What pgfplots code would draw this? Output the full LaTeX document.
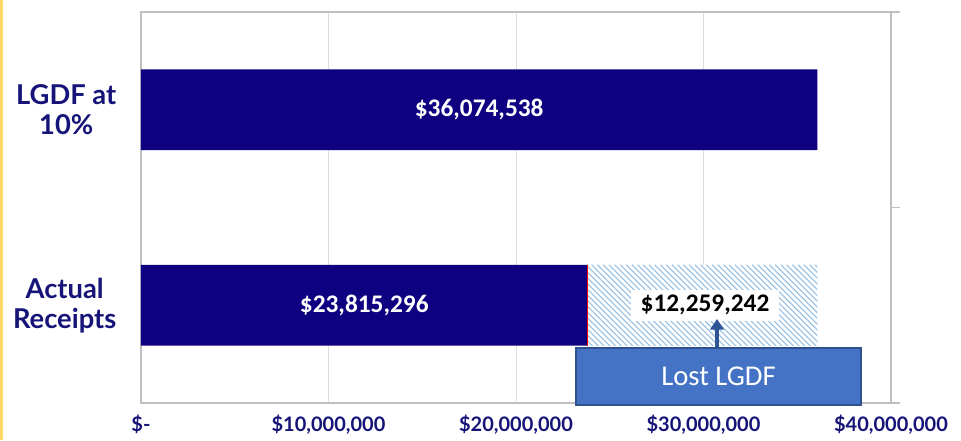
\documentclass[border=0pt]{standalone}
\usepackage{fontspec}
\setmainfont{Lato}
\newfontfamily\calibri{Carlito}
\usepackage{pgfplots}
\pgfplotsset{compat=1.18}
\usetikzlibrary{arrows.meta}
\definecolor{navybar}{RGB}{14,0,128}
\definecolor{navytext}{RGB}{22,20,120}
\definecolor{hatchc}{RGB}{150,192,228}
\definecolor{boxblue}{RGB}{68,114,196}
\definecolor{boxedge}{RGB}{47,82,143}
\definecolor{arrowblue}{RGB}{47,85,151}
\definecolor{framec}{RGB}{191,191,191}
\definecolor{gridc}{RGB}{222,222,222}
\definecolor{gold}{RGB}{255,217,102}
\begin{document}
\begin{tikzpicture}[x=1pt,y=1pt]
\useasboundingbox (0,0) rectangle (720.75,330);
\fill[white] (0,0) rectangle (720.75,330);
\fill[gold] (0.3,0) rectangle (2.6,330);
\begin{axis}[
  at={(105.75pt,27.75pt)}, anchor=south west,
  scale only axis, width=562.5pt, height=293.25pt,
  xbar stacked, bar width=0.414,
  xmin=0, xmax=40000000, ymin=-0.5, ymax=1.5,
  ytick={0,1},
  yticklabels={{Actual\\Receipts},{LGDF at\\10\%}},
  xtick={0,10000000,20000000,30000000,40000000},
  xticklabels={{\$-},{\$10,000,000},{\$20,000,000},{\$30,000,000},{\$40,000,000}},
  scaled x ticks=false,
  major tick length=0,
  axis line style={framec, line width=0.8pt},
  xmajorgrids, grid style={gridc, line width=0.7pt},
  clip=false,
  yticklabel style={font=\bfseries\fontsize{20.5}{22.5}\selectfont, text=navytext, align=center, xshift=-15pt},
  xticklabel style={font=\bfseries\fontsize{15}{17}\selectfont, text=navytext, yshift=-5.5pt},
]
\addplot[fill=navybar, draw=none] coordinates {(23815296,0) (36074538,1)};
\addplot[fill=white, draw=none] coordinates {(12259242,0) (0,1)};
\coordinate (hBL) at (axis cs:23815296,-0.207);
\coordinate (hTL) at (axis cs:23815296,0.207);
\coordinate (hTR) at (axis cs:36074538,0.207);
\coordinate (c1) at (axis cs:18037269,1);
\coordinate (c0) at (axis cs:11907648,0);
\coordinate (lab) at (axis cs:30080000,0.0);
\coordinate (arA) at (axis cs:30720000,-0.219);
\coordinate (arB) at (axis cs:30720000,-0.07);
\coordinate (bx1) at (axis cs:23200000,-0.219);
\coordinate (bx2) at (axis cs:38400000,-0.51);
\coordinate (bxc) at (axis cs:30800000,-0.3645);
\draw[framec, line width=0.8pt] (rel axis cs:1,0) -- ++(7pt,0pt);
\draw[framec, line width=0.8pt] (rel axis cs:1,0.5) -- ++(7pt,0pt);
\draw[framec, line width=0.8pt] (rel axis cs:1,1) -- ++(7pt,0pt);
\end{axis}
\begin{scope}
\clip (hBL) rectangle (hTR);
\foreach \i in {0,...,62} {
  \draw[hatchc, line width=0.8pt] ([xshift=\i*4.3pt-70pt]hTL) -- ++(80pt,-80pt);
}
\end{scope}
\draw[red, line width=0.6pt] (hBL) -- (hTL);
\node[text=white, font=\calibri\bfseries\fontsize{19}{22}\selectfont] at (c1) {\$36,074,538};
\node[text=white, font=\calibri\bfseries\fontsize{19}{22}\selectfont] at (c0) {\$23,815,296};
\node[fill=white, text=black, inner xsep=7pt, inner ysep=4pt, font=\calibri\bfseries\fontsize{19}{22}\selectfont] at (lab) {\$12,259,242};
\draw[arrowblue, line width=3pt, -{Triangle[width=10pt,length=8pt]}] (arA) -- (arB);
\filldraw[fill=boxblue, draw=boxedge, line width=1pt] (bx1) rectangle (bx2);
\node[text=white, font=\calibri\fontsize{21.5}{24}\selectfont] at (bxc) {Lost LGDF};
\end{tikzpicture}
\end{document}
